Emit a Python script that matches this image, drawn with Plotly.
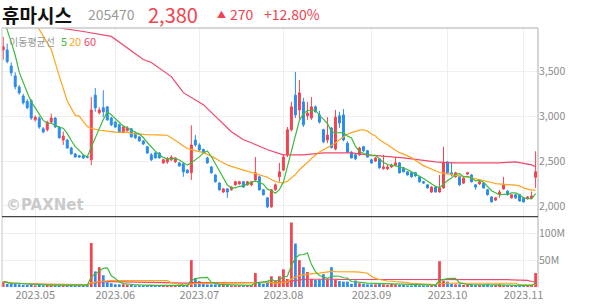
import pandas as pd
import plotly.graph_objects as go

# ---------------- data ----------------
holidays = ["2023-05-01", "2023-05-05", "2023-05-29", "2023-06-06", "2023-08-15",
            "2023-09-28", "2023-09-29", "2023-10-02", "2023-10-03", "2023-10-09"]
dates = [d.strftime("%Y-%m-%d") for d in pd.bdate_range("2023-04-19", "2023-11-06")
         if d.strftime("%Y-%m-%d") not in holidays]

opens = [3740, 3740, 3560, 3450, 3325, 3225, 3165, 3175, 2960, 2980,
         2860, 2850, 2935, 2980, 2880, 2735, 2735, 2645, 2580, 2560,
         2560, 2550, 2515, 3235, 3040, 3095, 3105, 2980, 2935, 2905,
         2825, 2840, 2860, 2815, 2770, 2725, 2660, 2570, 2590, 2590,
         2480, 2490, 2515, 2490, 2480, 2470, 2400, 2370, 2735, 2680,
         2630, 2535, 2435, 2345, 2255, 2155, 2190, 2180, 2235, 2245,
         2270, 2235, 2235, 2290, 2325, 2180, 2090, 1990, 2180, 2325,
         2400, 2570, 2850, 3235, 3070, 3160, 3005, 2980, 3105, 3015,
         2850, 2735, 2870, 2635, 3005, 3015, 2700, 2600, 2570, 2570,
         2660, 2615, 2515, 2500, 2525, 2415, 2415, 2435, 2455, 2480,
         2425, 2380, 2370, 2370, 2325, 2270, 2235, 2155, 2210, 2155,
         2200, 2490, 2370, 2325, 2325, 2255, 2355, 2345, 2235, 2245,
         2255, 2180, 2100, 2065, 2125, 2190, 2165, 2090, 2125, 2125,
         2090, 2080, 2085, 2320]
highs = [3885, 3810, 3600, 3490, 3350, 3250, 3190, 3190, 3010, 3000,
         2880, 2950, 3030, 2990, 2890, 2830, 2745, 2660, 2590, 2570,
         2570, 2560, 3215, 3315, 3100, 3290, 3110, 2995, 2950, 2915,
         2895, 2890, 2870, 2830, 2780, 2735, 2670, 2590, 2600, 2600,
         2520, 2545, 2565, 2540, 2490, 2480, 2410, 2900, 2790, 2700,
         2640, 2550, 2445, 2355, 2265, 2200, 2200, 2220, 2280, 2280,
         2280, 2280, 2275, 2545, 2340, 2190, 2100, 2190, 2250, 2480,
         2570, 2880, 3160, 3495, 3405, 3205, 3160, 3215, 3120, 3060,
         2860, 2990, 2880, 3070, 3050, 3080, 2720, 2610, 2580, 2660,
         2670, 2625, 2525, 2545, 2535, 2570, 2460, 2470, 2540, 2490,
         2435, 2390, 2380, 2380, 2335, 2280, 2245, 2220, 2220, 2345,
         2660, 2500, 2490, 2380, 2335, 2320, 2380, 2355, 2245, 2280,
         2265, 2190, 2110, 2100, 2180, 2325, 2175, 2130, 2135, 2135,
         2100, 2110, 2160, 2610]
lows = [3630, 3590, 3450, 3300, 3240, 3130, 3080, 2960, 2940, 2860,
        2810, 2830, 2920, 2870, 2750, 2680, 2640, 2575, 2540, 2535,
        2525, 2530, 2455, 3050, 3020, 2990, 2950, 2890, 2870, 2815,
        2810, 2830, 2760, 2745, 2715, 2680, 2580, 2500, 2530, 2530,
        2470, 2470, 2500, 2480, 2440, 2325, 2360, 2290, 2660, 2610,
        2590, 2470, 2360, 2260, 2170, 2145, 2090, 2170, 2225, 2240,
        2200, 2225, 2220, 2270, 2170, 2115, 1975, 1980, 2170, 2270,
        2390, 2545, 2830, 2980, 2960, 2880, 2960, 2960, 3040, 2920,
        2700, 2700, 2640, 2620, 2870, 2720, 2590, 2530, 2510, 2560,
        2600, 2540, 2470, 2490, 2415, 2405, 2400, 2425, 2445, 2360,
        2375, 2340, 2315, 2325, 2260, 2245, 2195, 2145, 2150, 2150,
        2195, 2355, 2330, 2315, 2225, 2245, 2345, 2260, 2180, 2235,
        2195, 2115, 2040, 2055, 2090, 2180, 2115, 2080, 2080, 2050,
        2040, 2070, 2080, 2200]
closes = [3775, 3610, 3485, 3330, 3260, 3150, 3095, 2980, 2990, 2880,
          2825, 2935, 2980, 2880, 2760, 2780, 2645, 2580, 2545, 2545,
          2535, 2540, 3070, 3095, 3070, 3050, 2960, 2905, 2880, 2825,
          2880, 2870, 2770, 2760, 2725, 2690, 2590, 2515, 2535, 2535,
          2515, 2525, 2545, 2535, 2445, 2380, 2370, 2680, 2680, 2625,
          2600, 2480, 2370, 2270, 2180, 2190, 2155, 2210, 2270, 2270,
          2210, 2270, 2270, 2370, 2180, 2125, 1990, 2180, 2235, 2380,
          2545, 2850, 3105, 3015, 3260, 2905, 3035, 3105, 3050, 2935,
          2715, 2790, 2650, 2990, 2925, 2735, 2600, 2535, 2525, 2645,
          2615, 2545, 2480, 2535, 2425, 2435, 2435, 2455, 2480, 2370,
          2380, 2345, 2325, 2335, 2270, 2255, 2200, 2210, 2155, 2200,
          2480, 2370, 2345, 2370, 2235, 2310, 2370, 2270, 2210, 2270,
          2200, 2125, 2045, 2090, 2155, 2235, 2125, 2125, 2090, 2055,
          2045, 2100, 2110, 2380]
volumes_m = [10, 6, 6, 6, 5, 4, 4, 5, 3, 4,
             3, 4, 4, 3, 4, 3, 4, 4, 3, 3,
             3, 4, 82, 29, 37, 22, 9, 7, 5, 5,
             5, 4, 4, 3, 3, 3, 3, 4, 3, 3,
             3, 3, 3, 3, 3, 4, 3, 50, 17, 11,
             6, 5, 5, 5, 4, 4, 4, 3, 3, 3,
             3, 3, 3, 26, 8, 6, 10, 20, 12, 20,
             33, 15, 120, 81, 50, 37, 28, 15, 13, 14,
             24, 14, 37, 14, 11, 10, 10, 6, 12, 7,
             6, 5, 5, 5, 7, 5, 4, 6, 5, 4,
             4, 3, 3, 4, 3, 3, 3, 3, 5, 48,
             12, 10, 6, 5, 5, 4, 4, 4, 4, 4,
             4, 5, 3, 4, 5, 3, 3, 3, 3, 3,
             3, 3, 3, 26]

ma5_head = [4150, 3960, 3830, 3680]             # first 4 sessions
ma20_head_idx = [0, 7, 9, 12, 14, 16, 18]
ma20_head_val = [4400, 4150, 3968, 3744, 3450, 3170, 3010]
ma60_idx = [0, 10, 20, 27, 35, 37, 42, 45, 50, 54, 57, 60, 62, 66, 70, 75, 80, 87,
            91, 100, 108, 112, 124, 128, 132, 133]
ma60_val = [4060, 4010, 3945, 3890, 3632, 3599, 3442, 3263, 3129, 2961, 2827, 2738,
            2704, 2626, 2570, 2570, 2592, 2592, 2570, 2537, 2492, 2481, 2481, 2492,
            2458, 2436]

month_ticks = ["2023-05-02", "2023-06-01", "2023-07-03", "2023-08-01",
               "2023-09-01", "2023-10-04", "2023-11-01"]
month_labels = ["2023.05", "2023.06", "2023.07", "2023.08", "2023.09", "2023.10", "2023.11"]
price_ticks = [2000, 2500, 3000, 3500]
vol_ticks = [50, 100]
vol_tick_labels = ["50M", "100M"]

# ---------------- derived ----------------
cs = pd.Series(closes, dtype=float)
ma5 = cs.rolling(5).mean().tolist()
ma5[:4] = ma5_head
ma20_calc = cs.rolling(20).mean()
ma20_x = [dates[i] for i in ma20_head_idx] + dates[19:]
ma20_y = ma20_head_val + ma20_calc[19:].tolist()
ma60_x = [dates[i] for i in ma60_idx]

vs = pd.Series(volumes_m, dtype=float)
vma5 = vs.rolling(5, min_periods=1).mean()
vma20 = vs.rolling(20, min_periods=1).mean()
vma60 = vs.rolling(60, min_periods=1).mean()

RED = "#F2434F"
BLUE = "#2B8CEB"
GREEN = "#3CBB3C"
ORANGE = "#FFA41C"
PINK = "#F2476A"
GRID = "#EEEEEE"
TXT = "#8A8A8A"
FONT = "Noto Sans CJK KR"

vol_colors = [RED if c >= o else BLUE for o, c in zip(opens, closes)]

fig = go.Figure()
fig.add_trace(go.Candlestick(
    x=dates, open=opens, high=highs, low=lows, close=closes,
    increasing=dict(line=dict(color=RED, width=1), fillcolor=RED),
    decreasing=dict(line=dict(color=BLUE, width=1), fillcolor=BLUE),
    whiskerwidth=0, xaxis="x", yaxis="y", hoverinfo="skip"))
fig.add_trace(go.Scatter(x=ma60_x, y=ma60_val, mode="lines",
                         line=dict(color=PINK, width=1.2), xaxis="x", yaxis="y"))
fig.add_trace(go.Scatter(x=ma20_x, y=ma20_y, mode="lines",
                         line=dict(color=ORANGE, width=1.2), xaxis="x", yaxis="y"))
fig.add_trace(go.Scatter(x=dates, y=ma5, mode="lines",
                         line=dict(color=GREEN, width=1.2), xaxis="x", yaxis="y"))

fig.add_trace(go.Bar(x=dates, y=volumes_m, marker=dict(color=vol_colors, line=dict(width=0)),
                     xaxis="x2", yaxis="y2"))
fig.add_trace(go.Scatter(x=dates, y=vma60, mode="lines", line=dict(color=PINK, width=1.2),
                         xaxis="x2", yaxis="y2"))
fig.add_trace(go.Scatter(x=dates, y=vma20, mode="lines", line=dict(color=ORANGE, width=1.2),
                         xaxis="x2", yaxis="y2"))
fig.add_trace(go.Scatter(x=dates, y=vma5, mode="lines", line=dict(color=GREEN, width=1.2),
                         xaxis="x2", yaxis="y2"))

split = (287 - 216.7) / 259.0
xr = [-0.3, 133.6]
fig.update_layout(
    width=594, height=304,
    margin=dict(l=2, r=56, t=28, b=17),
    paper_bgcolor="white", plot_bgcolor="white",
    showlegend=False, bargap=0.32,
    font=dict(family=FONT, color=TXT, size=11),
    xaxis=dict(type="category", categoryorder="array", categoryarray=dates,
               domain=[0, 1], anchor="y", range=xr, tickvals=month_ticks,
               showticklabels=False, showgrid=True, gridcolor=GRID, gridwidth=1,
               rangeslider=dict(visible=False), zeroline=False, ticks=""),
    yaxis=dict(domain=[split, 1], anchor="x", side="right", range=[1880, 3984],
               tickvals=price_ticks, tickformat=",d", showgrid=True, gridcolor=GRID,
               zeroline=False, ticks="", tickfont=dict(size=10.5, color=TXT)),
    xaxis2=dict(type="category", categoryorder="array", categoryarray=dates,
                domain=[0, 1], anchor="y2", range=xr, tickvals=month_ticks,
                ticktext=month_labels, showgrid=True, gridcolor=GRID, zeroline=False,
                ticks="", tickfont=dict(size=11, color=TXT), tickangle=0),
    yaxis2=dict(domain=[0, split], anchor="x2", side="right", range=[0, 131],
                tickvals=vol_ticks, ticktext=vol_tick_labels, showgrid=True,
                gridcolor=GRID, zeroline=False, ticks="", tickfont=dict(size=10.5, color=TXT)),
)

shapes = [
    dict(type="line", xref="paper", yref="paper", x0=0, x1=1, y0=1, y1=1,
         line=dict(color="#C8C8C8", width=1.5)),
    dict(type="line", xref="paper", yref="paper", x0=0, x1=0, y0=0, y1=1,
         line=dict(color="#C8C8C8", width=1)),
    dict(type="line", xref="paper", yref="paper", x0=1, x1=1, y0=0, y1=1,
         line=dict(color="#C8C8C8", width=1.5)),
    dict(type="line", xref="paper", yref="paper", x0=0, x1=1, y0=split, y1=split,
         line=dict(color="#444444", width=1.3)),
]
fig.update_layout(shapes=shapes)

ann = [
    dict(text="<b>휴마시스</b>", x=0, y=14, xanchor="left", yanchor="middle",
         font=dict(size=19, color="#111111")),
    dict(text="205470", x=86, y=14, xanchor="left", yanchor="middle",
         font=dict(size=14, color="#999999")),
    dict(text="2,380", x=146, y=14, xanchor="left", yanchor="middle",
         font=dict(size=20, color=RED)),
    dict(text="▲", x=215, y=14, xanchor="left", yanchor="middle",
         font=dict(size=9, color=RED)),
    dict(text="270", x=228, y=14, xanchor="left", yanchor="middle",
         font=dict(size=14, color=RED)),
    dict(text="+12.80%", x=262, y=14, xanchor="left", yanchor="middle",
         font=dict(size=14, color=RED)),
    dict(text="이동평균선", x=7, y=41, xanchor="left", yanchor="middle",
         font=dict(size=10, color="#9A9A9A")),
    dict(text="5", x=59, y=41, xanchor="left", yanchor="middle",
         font=dict(size=11, color=GREEN)),
    dict(text="20", x=67, y=41, xanchor="left", yanchor="middle",
         font=dict(size=11, color=ORANGE)),
    dict(text="60", x=82, y=41, xanchor="left", yanchor="middle",
         font=dict(size=11, color=PINK)),
    dict(text="<b>©PAXNet</b>", x=4, y=205, xanchor="left", yanchor="middle",
         font=dict(size=15, color="#CACACA", family="DejaVu Sans")),
]
W, H = 594, 304
for a in ann:
    a["xref"] = "paper"
    a["yref"] = "paper"
    a["x"] = (a["x"] - 2) / (W - 58)
    a["y"] = (H - 17 - a["y"]) / 259.0
    a["showarrow"] = False
    if "family" not in a["font"]:
        a["font"]["family"] = FONT
fig.update_layout(annotations=ann)

fig.write_html("out.html")
